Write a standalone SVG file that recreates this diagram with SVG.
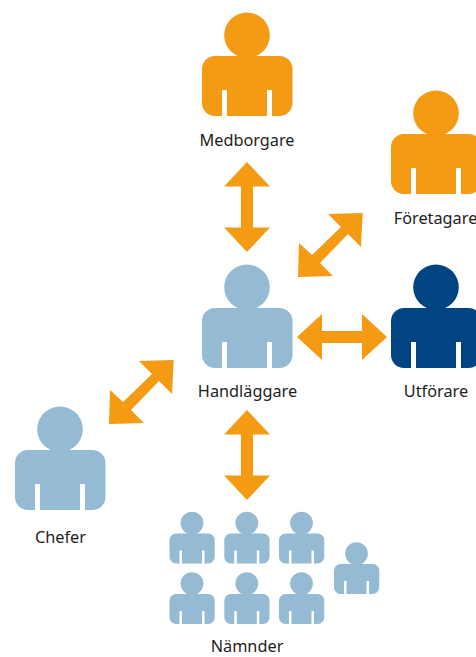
<svg xmlns="http://www.w3.org/2000/svg" width="476" height="657" viewBox="0 0 476 657">
<style>
text{font-family:"Noto Sans","Open Sans","Liberation Sans",sans-serif;font-size:16.300px;fill:#1d1d1b;text-anchor:middle}
.o{fill:#f49b13}.b{fill:#94bbd3}.d{fill:#004481}
.arrow{fill:#f49b13}
</style>
<defs>
<symbol id="person" viewBox="0 0 92 106" width="92" height="106" overflow="visible">
<circle cx="45" cy="23.200" r="22.800"/>
<path d="M13 44H77.500a13 13 0 0 1 13 13V91a13 13 0 0 1 -13 13H70V78H65V104H25V78H20V104H13a13 13 0 0 1 -13 -13V57a13 13 0 0 1 13 -13Z"/>
</symbol>
<path id="vert" d="M0 0L23 24.500H6V65.500H23L0 90L-23 65.500H-6V24.500H-23Z"/>
<path id="horiz" d="M0 0L25 -23V-6H65V-23L90 0L65 23V6H25V23Z"/>
<path id="diag" d="M64.700 0L63 34L50 21L22 50L35 63L0 64L1 30L14 42L43 14L30 1Z"/>
</defs>
<g id="connectors">
<use href="#vert" class="arrow" x="247" y="162"/>
<use href="#vert" class="arrow" x="247" y="410"/>
<use href="#horiz" class="arrow" x="297" y="337"/>
<use href="#diag" class="arrow" x="298" y="213"/>
<use href="#diag" class="arrow" x="109" y="360"/>
</g>
<g id="medborgare" class="o"><use href="#person" x="202" y="12"/><text x="247" y="146">Medborgare</text></g>
<g id="foretagare" class="o"><use href="#person" x="391" y="90"/><text x="435.500" y="224">Företagare</text></g>
<g id="handlaggare" class="b"><use href="#person" x="202" y="264"/><text x="247.500" y="397">Handläggare</text></g>
<g id="utforare" class="d"><use href="#person" x="391" y="264"/><text x="436" y="397">Utförare</text></g>
<g id="chefer" class="b"><use href="#person" x="15" y="406"/><text x="60.500" y="543">Chefer</text></g>
<g id="namnder" class="b">
<use href="#person" transform="translate(169.500 511.500) scale(.5)"/>
<use href="#person" transform="translate(224.300 511.500) scale(.5)"/>
<use href="#person" transform="translate(279 511.500) scale(.5)"/>
<use href="#person" transform="translate(334 542) scale(.5)"/>
<use href="#person" transform="translate(169.500 572) scale(.5)"/>
<use href="#person" transform="translate(224.300 572) scale(.5)"/>
<use href="#person" transform="translate(279 572) scale(.5)"/>
<text x="247" y="652">Nämnder</text>
</g>
</svg>
